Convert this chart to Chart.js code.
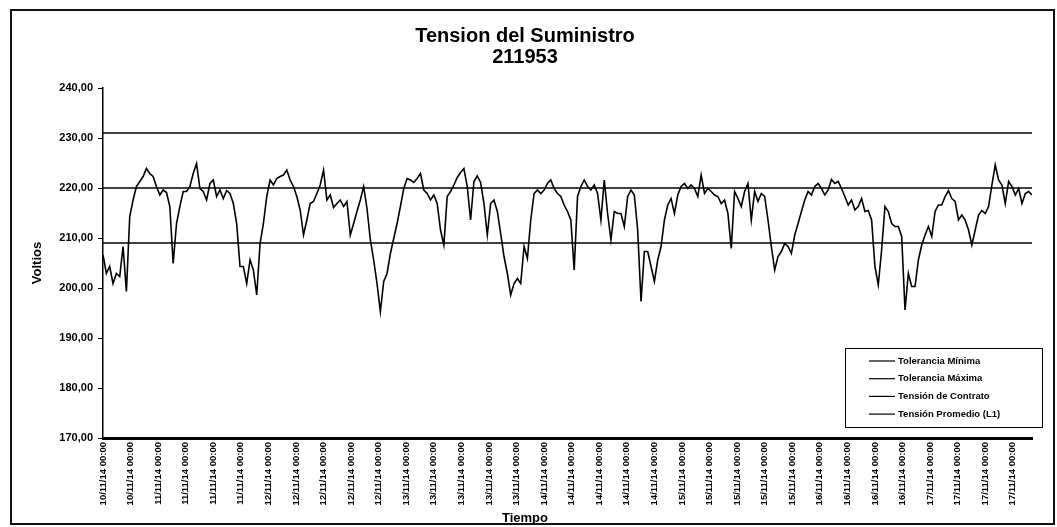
<!DOCTYPE html>
<html>
<head>
<meta charset="utf-8">
<script src="https://cdn.jsdelivr.net/npm/chart.js@4.4.1/dist/chart.umd.min.js"></script>
<style>
  html, body { margin: 0; padding: 0; background: #fff; }
  #wrap { width: 1057px; height: 527px; position: relative; }
</style>
</head>
<body>
<div id="wrap"><canvas id="c" width="1057" height="527"></canvas></div>
<script>
// ---- Data ----
const chartTitle = ['Tension del Suministro', '211953'];
const yAxisTitle = 'Voltios';
const xAxisTitle = 'Tiempo';

const tickLabels = [
  '10/11/14 00:00','10/11/14 00:00',
  '11/11/14 00:00','11/11/14 00:00','11/11/14 00:00','11/11/14 00:00',
  '12/11/14 00:00','12/11/14 00:00','12/11/14 00:00','12/11/14 00:00','12/11/14 00:00',
  '13/11/14 00:00','13/11/14 00:00','13/11/14 00:00','13/11/14 00:00','13/11/14 00:00',
  '14/11/14 00:00','14/11/14 00:00','14/11/14 00:00','14/11/14 00:00','14/11/14 00:00',
  '15/11/14 00:00','15/11/14 00:00','15/11/14 00:00','15/11/14 00:00','15/11/14 00:00',
  '16/11/14 00:00','16/11/14 00:00','16/11/14 00:00','16/11/14 00:00',
  '17/11/14 00:00','17/11/14 00:00','17/11/14 00:00','17/11/14 00:00'
];
const samplesPerLabel = 8.25;

const seriesNames = ['Tolerancia Mínima', 'Tolerancia Máxima', 'Tensión de Contrato', 'Tensión Promedio (L1)'];
const toleranciaMinima = 209;
const toleranciaMaxima = 231;
const tensionContrato = 220;

const tensionPromedio = [
  206.6,202.9,204.3,200.9,202.9,202.3,208.3,199.3,214.3,217.6,
  220.3,221.3,222.3,223.9,222.9,222.3,220.3,218.6,219.6,219.1,
  216.3,204.9,212.9,216.3,219.3,219.3,220.3,222.9,224.9,219.9,
  219.3,217.6,220.9,221.6,218.3,219.6,217.9,219.5,218.9,216.9,
  212.9,204.3,204.3,200.9,205.6,203.6,198.6,208.9,212.9,218.3,
  221.6,220.6,221.9,222.3,222.6,223.6,221.6,220.3,218.3,215.6,
  210.6,213.6,216.9,217.3,218.9,220.6,223.6,217.6,218.6,216.1,
  216.9,217.6,216.3,217.3,210.6,212.9,215.3,
  217.6,220.3,215.9,209.6,205.6,200.9,195.3,201.3,202.9,206.9,
  209.9,212.9,216.3,219.9,221.9,221.6,221.1,221.9,222.9,219.6,
  218.9,217.6,218.6,216.9,211.6,208.6,218.3,219.3,220.6,222.1,
  223.1,223.9,220.3,213.6,221.3,222.4,221.1,216.9,210.6,216.9,
  217.6,215.3,210.9,206.3,202.9,198.6,200.9,201.9,200.9,208.3,
  205.9,213.6,218.9,219.6,218.9,219.6,220.9,221.6,219.9,218.9,
  218.3,216.6,215.3,213.6,203.6,218.3,220.3,221.6,220.3,219.6,
  220.6,218.9,213.6,221.6,214.9,209.6,215.3,214.9,214.9,212.3,
  218.3,219.6,218.6,211.6,197.3,207.3,207.3,204.3,201.3,205.6,
  208.3,213.6,216.6,217.9,214.9,218.6,220.3,220.9,219.9,220.6,
  219.9,218.3,222.6,218.9,219.9,
  219.3,218.6,218.3,216.9,217.6,214.9,207.9,219.3,217.9,216.3,
  219.3,220.9,213.6,219.3,217.3,218.9,218.3,213.6,208.3,203.6,
  206.3,207.3,208.9,208.3,206.9,210.6,212.9,215.3,217.6,219.3,
  218.6,220.3,220.9,219.9,218.6,219.6,221.7,220.9,221.3,219.9,
  218.3,216.6,217.6,215.6,216.3,217.9,215.3,215.5,213.6,204.3,
  200.6,207.6,216.3,215.3,212.9,212.3,212.3,210.3,195.6,202.9,
  200.3,200.3,205.6,208.6,210.6,212.3,210.3,215.3,216.6,216.6,
  218.3,219.5,217.9,217.3,213.6,214.6,213.6,211.6,208.6,211.6,
  214.6,215.5,214.9,216.3,220.6,224.6,221.6,220.6,216.9,221.3,
  220.3,218.6,219.9,216.9,218.9,219.3,218.6
];

const yMin = 170, yMax = 240, yStep = 10;

// ---- Build ----
const lastIndex = tensionPromedio.length - 1;
const flat = v => [{x: 0, y: v}, {x: lastIndex, y: v}];
const FONT = "'Liberation Sans', Arial, Helvetica, sans-serif";
Chart.defaults.font.family = FONT;
Chart.defaults.color = '#000';

const frame = {
  id: 'frame',
  beforeDraw(chart) {
    const c = chart.ctx;
    c.save(); c.fillStyle = '#fff'; c.fillRect(0, 0, chart.width, chart.height); c.restore();
  },
  afterDraw(chart) {
    const c = chart.ctx;
    c.save();
    c.strokeStyle = '#111'; c.lineWidth = 2;
    c.strokeRect(11, 10, 1043, 514);
    c.restore();
  }
};

const boxLegend = {
  id: 'boxLegend',
  afterDatasetsDraw(chart) {
    const c = chart.ctx;
    const x = 845, y = 348, w = 197, h = 79;
    c.save();
    c.fillStyle = '#fff'; c.fillRect(x, y, w, h);
    c.strokeStyle = '#000'; c.lineWidth = 1; c.strokeRect(x + 0.5, y + 0.5, w, h);
    c.font = "bold 9.5px " + FONT;
    c.textBaseline = 'middle'; c.textAlign = 'left'; c.fillStyle = '#000';
    chart.data.datasets.forEach((ds, i) => {
      const cy = y + 13 + i * 17.7;
      c.beginPath(); c.moveTo(x + 24, cy); c.lineTo(x + 50, cy);
      c.lineWidth = 1.2; c.strokeStyle = '#000'; c.stroke();
      c.fillText(ds.label, x + 53, cy);
    });
    c.restore();
  }
};

new Chart(document.getElementById('c'), {
  type: 'line',
  data: {
    datasets: [
      { label: seriesNames[0], data: flat(toleranciaMinima), borderColor: '#000', borderWidth: 1.6, pointRadius: 0 },
      { label: seriesNames[1], data: flat(toleranciaMaxima), borderColor: '#000', borderWidth: 1.6, pointRadius: 0 },
      { label: seriesNames[2], data: flat(tensionContrato), borderColor: '#000', borderWidth: 1.6, pointRadius: 0 },
      { label: seriesNames[3], data: tensionPromedio.map((v, i) => ({x: i, y: v})), borderColor: '#000', borderWidth: 1.6, pointRadius: 0, tension: 0 }
    ]
  },
  options: {
    responsive: false,
    animation: false,
    events: [],
    layout: { padding: { left: 18, right: 25, top: 0, bottom: 0 } },
    plugins: {
      legend: { display: false },
      tooltip: { enabled: false },
      title: {
        display: true, text: chartTitle, color: '#000',
        font: { size: 20, weight: 'bold', lineHeight: 1.05 },
        padding: { top: 26, bottom: 20 }
      },
      subtitle: {
        display: true, position: 'bottom', text: xAxisTitle, color: '#000',
        font: { size: 13, weight: 'bold', lineHeight: 1 },
        padding: { top: 2, bottom: 2 }
      }
    },
    scales: {
      x: {
        type: 'linear', min: 0, max: lastIndex,
        afterBuildTicks: s => { s.ticks = tickLabels.map((_, k) => ({ value: k * samplesPerLabel })); },
        afterFit: s => { s.height = 72; },
        ticks: {
          autoSkip: false, minRotation: 90, maxRotation: 90, padding: 4,
          font: { size: 9.5, weight: 'bold' }, color: '#000',
          callback: (v, i) => tickLabels[i]
        },
        grid: { drawOnChartArea: false, drawTicks: false },
        border: { display: true, color: '#000', width: 3 }
      },
      y: {
        min: yMin, max: yMax,
        afterFit: s => { s.width = 85; },
        ticks: {
          stepSize: yStep, padding: 5, color: '#000',
          font: { size: 11, weight: 'bold' },
          callback: v => v.toFixed(2).replace('.', ',')
        },
        grid: { drawOnChartArea: false, drawTicks: true, tickLength: 5, tickColor: '#000', tickWidth: 1 },
        border: { display: true, color: '#000', width: 1.5 },
        title: { display: true, text: yAxisTitle, color: '#000', font: { size: 13, weight: 'bold', lineHeight: 1 }, padding: { top: 13, bottom: 0 } }
      }
    }
  },
  plugins: [frame, boxLegend]
});
</script>
</body>
</html>
